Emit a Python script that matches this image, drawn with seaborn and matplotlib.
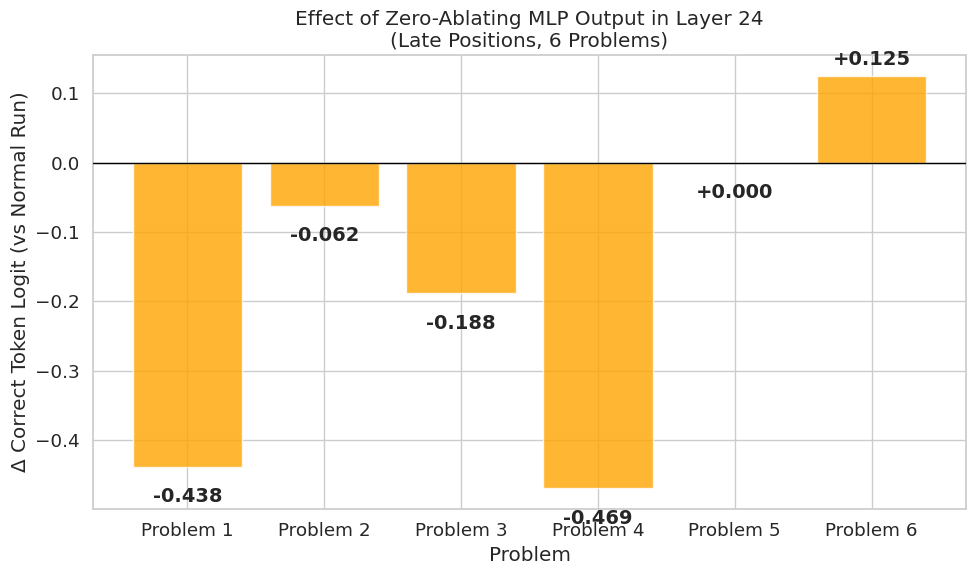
import matplotlib
matplotlib.use("Agg")
import matplotlib.pyplot as plt
import seaborn as sns
import pandas as pd

problems = ["Problem 1", "Problem 2", "Problem 3", "Problem 4", "Problem 5", "Problem 6"]
deltas = [-0.438, -0.062, -0.188, -0.469, 0.000, 0.125]

sns.set_theme(style="whitegrid", context="notebook", font_scale=1.2)

df = pd.DataFrame({"Problem": problems, "delta": deltas})

fig, ax = plt.subplots(figsize=(9.76, 5.76), dpi=100)
sns.barplot(data=df, x="Problem", y="delta", color="orange", alpha=0.8,
            saturation=1, width=0.8, ax=ax, zorder=2)
ax.xaxis.grid(True)
ax.set_axisbelow(True)
ax.axhline(0, color="black", linewidth=1, zorder=3)

for i, v in enumerate(deltas):
    if v > 0:
        ax.text(i, v + 0.01, f"{v:+.3f}", ha="center", va="bottom",
                fontweight="bold", fontsize=14)
    else:
        ax.text(i, v - 0.03, f"{v:+.3f}" if v == 0 else f"{v:.3f}", ha="center", va="top",
                fontweight="bold", fontsize=14)

ax.set_xlabel("Problem")
ax.set_ylabel("Δ Correct Token Logit (vs Normal Run)")
ax.set_title("Effect of Zero-Ablating MLP Output in Layer 24\n(Late Positions, 6 Problems)")
ax.set_ylim(-0.499, 0.155)
ax.set_xlim(-0.69, len(problems) - 1 + 0.69)
fig.subplots_adjust(left=0.0953, right=0.9898, top=0.9045, bottom=0.1163)
fig.savefig("out.png", dpi=100)
